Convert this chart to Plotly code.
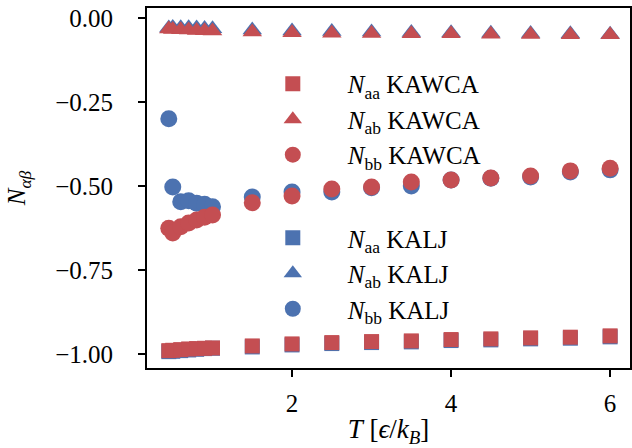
import plotly.graph_objects as go

T = [0.45, 0.5, 0.6, 0.7, 0.8, 0.9, 1.0, 1.5, 2.0, 2.5, 3.0, 3.5, 4.0, 4.5, 5.0, 5.5, 6.0]

# KALJ (blue)
kalj_aa = [-0.993, -0.992, -0.990, -0.988, -0.986, -0.984, -0.983, -0.979, -0.973, -0.969, -0.966, -0.964, -0.960, -0.958, -0.955, -0.953, -0.949]
kalj_ab = [-0.030, -0.028, -0.029, -0.029, -0.030, -0.031, -0.032, -0.036, -0.039, -0.040, -0.042, -0.043, -0.044, -0.045, -0.046, -0.047, -0.048]
kalj_bb = [-0.300, -0.503, -0.547, -0.544, -0.551, -0.554, -0.562, -0.533, -0.518, -0.518, -0.505, -0.500, -0.482, -0.477, -0.473, -0.458, -0.452]

# KAWCA (red)
kawca_aa = [-0.990, -0.989, -0.987, -0.985, -0.984, -0.983, -0.982, -0.976, -0.970, -0.966, -0.963, -0.961, -0.957, -0.955, -0.952, -0.950, -0.946]
kawca_ab = [-0.033, -0.034, -0.035, -0.036, -0.037, -0.038, -0.039, -0.042, -0.044, -0.045, -0.046, -0.047, -0.047, -0.048, -0.049, -0.050, -0.050]
kawca_bb = [-0.626, -0.640, -0.621, -0.610, -0.601, -0.593, -0.586, -0.550, -0.530, -0.509, -0.503, -0.488, -0.482, -0.476, -0.470, -0.455, -0.447]

BLUE = "#4C72B0"
RED = "#C44E52"
FONT = "Liberation Serif"

fig = go.Figure()

def add(y, color, symbol, name, legend, size):
    fig.add_trace(go.Scatter(
        x=T, y=y, mode="markers", name=name, legend=legend,
        marker=dict(color=color, symbol=symbol, size=size, line=dict(width=0)),
    ))

add(kalj_aa, BLUE, "square", "<i>N</i><sub>aa</sub> KALJ", "legend2", 15)
add(kalj_ab, BLUE, "triangle-up", "<i>N</i><sub>ab</sub> KALJ", "legend2", 17)
add(kalj_bb, BLUE, "circle", "<i>N</i><sub>bb</sub> KALJ", "legend2", 17)
add(kawca_aa, RED, "square", "<i>N</i><sub>aa</sub> KAWCA", "legend", 15)
add(kawca_ab, RED, "triangle-up", "<i>N</i><sub>ab</sub> KAWCA", "legend", 17)
add(kawca_bb, RED, "circle", "<i>N</i><sub>bb</sub> KAWCA", "legend", 17)

legend_common = dict(
    font=dict(family=FONT, size=25, color="black"),
    bgcolor="rgba(0,0,0,0)", borderwidth=0,
    itemwidth=100, tracegroupgap=0,
    xanchor="left", yanchor="top",
)

fig.update_layout(
    width=632, height=448,
    margin=dict(l=147, r=2, t=8, b=80, autoexpand=False),
    paper_bgcolor="white", plot_bgcolor="white",
    font=dict(family=FONT, size=24, color="black"),
    showlegend=True,
    legend=dict(x=0.188, y=0.853, **legend_common),
    legend2=dict(x=0.188, y=0.425, **legend_common),
    xaxis=dict(
        range=[0.176, 6.25], automargin=False,
        tickvals=[2, 4, 6], ticktext=["2", "4", "6"],
        ticks="outside", ticklen=7, tickwidth=1.5, tickcolor="black",
        ticklabelstandoff=5,
        showline=True, linecolor="black", linewidth=2, mirror=True,
        showgrid=False, zeroline=False,
        title=dict(text="<i>T</i> [<i>ϵ</i>/<i>k</i><sub><i>B</i></sub>]", standoff=18,
                   font=dict(family=FONT, size=27)),
        tickfont=dict(family=FONT, size=25),
    ),
    yaxis=dict(
        range=[-1.0417, 0.0298], automargin=False,
        tickvals=[0.0, -0.25, -0.5, -0.75, -1.0],
        ticktext=["0.00", "−0.25", "−0.50", "−0.75", "−1.00"],
        ticks="outside", ticklen=7, tickwidth=1.5, tickcolor="black",
        ticklabelstandoff=20,
        showline=True, linecolor="black", linewidth=2, mirror=True,
        showgrid=False, zeroline=False,
        title=dict(text="<i>N</i><sub><i>αβ</i></sub>", standoff=22,
                   font=dict(family=FONT, size=25)),
        tickfont=dict(family=FONT, size=25),
    ),
)

fig.write_html("out.html", post_script="document.body.style.margin='0';",
               config={"displayModeBar": False})
